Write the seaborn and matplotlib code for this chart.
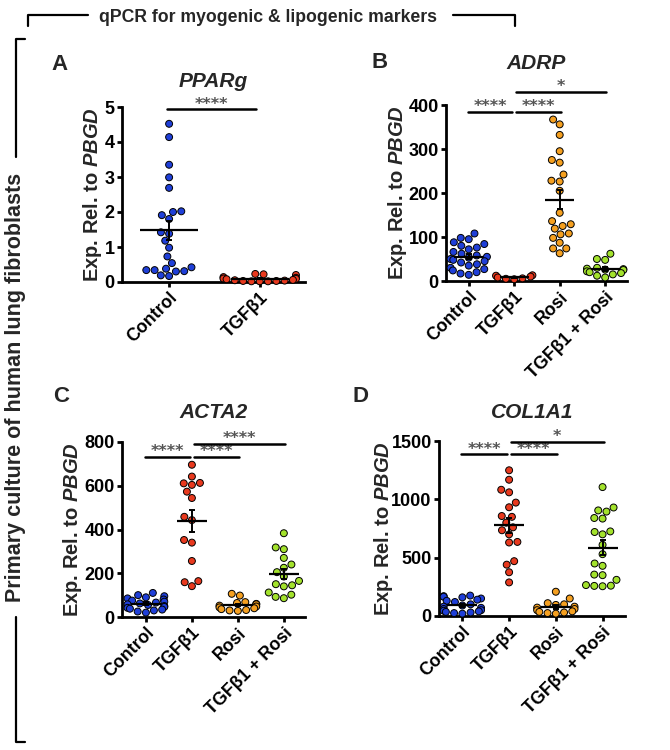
import matplotlib
matplotlib.use('Agg')
import matplotlib.pyplot as plt
import seaborn as sns
import pandas as pd
import numpy as np
from matplotlib.lines import Line2D

# ---------------- data ----------------
groups_a = ['Control', 'TGFβ1']
groups_bcd = ['Control', 'TGFβ1', 'Rosi', 'TGFβ1 + Rosi']
colors = ['#1f3fd8', '#e8391e', '#f5a020', '#a3e22c']

pparg_control = [4.52, 4.14, 3.35, 2.99, 2.69, 2.02, 2.00, 1.91, 1.80, 1.42, 1.38, 1.18,
                 0.98, 0.73, 0.54, 0.38, 0.34, 0.31, 0.30, 0.34, 0.42, 0.17, 0.19]
pparg_tgfb = [0.22, 0.23, 0.20, 0.14, 0.12, 0.10, 0.09, 0.08, 0.06, 0.05, 0.04, 0.03,
              0.03, 0.02, 0.02, 0.02]

adrp_control = [108, 98, 95, 88, 84, 80, 76, 72, 66, 62, 58, 55, 53, 50, 48, 45, 42, 38,
                35, 30, 27, 24, 20, 17, 14]
adrp_tgfb = [13, 12, 10, 8, 6, 5, 4]
adrp_rosi = [367, 356, 332, 295, 275, 269, 242, 228, 226, 205, 155, 136, 129, 125, 119,
             108, 106, 98, 87, 74, 74, 63]
adrp_tgfb_rosi = [62, 50, 48, 30, 28, 27, 26, 25, 22, 20, 18, 15, 12, 8]

acta2_control = [110, 100, 95, 90, 85, 80, 75, 70, 66, 62, 58, 55, 50, 46, 42, 38, 34, 30, 25, 20]
acta2_tgfb = [696, 642, 611, 604, 613, 573, 544, 458, 443, 352, 340, 256, 164, 141, 159]
acta2_rosi = [106, 98, 68, 64, 60, 58, 52, 48, 44, 40, 36, 32, 30, 28]
acta2_tgfb_rosi = [383, 318, 310, 270, 240, 225, 205, 185, 165, 150, 145, 140, 112, 102, 92, 86]

col1a1_control = [175, 170, 165, 160, 150, 140, 130, 120, 100, 90, 80, 70, 60, 50, 40, 30,
                  25, 20, 45, 35]
col1a1_tgfb = [1249, 1168, 1082, 1060, 972, 932, 857, 850, 800, 760, 735, 700, 635, 630,
               470, 440, 375, 288]
col1a1_rosi = [208, 150, 110, 100, 95, 80, 72, 60, 50, 40, 35, 30, 25, 20]
col1a1_tgfb_rosi = [1105, 930, 905, 895, 840, 835, 725, 720, 700, 610, 530, 450, 430, 355,
                    350, 310, 265, 260, 258, 255]

titles = ['PPARg', 'ADRP', 'ACTA2', 'COL1A1']
panel_letters = ['A', 'B', 'C', 'D']
ylims = [5, 400, 800, 1500]
yticks = [[0, 1, 2, 3, 4, 5], [0, 100, 200, 300, 400], [0, 200, 400, 600, 800], [0, 500, 1000, 1500]]
# significance: (group i, group j, height, label)
sig_a = [(0, 1, 4.93, '****')]
sig_b = [(0, 1, 385, '****'), (1, 2, 385, '****'), (1, 3, 430, '*')]
sig_c = [(0, 1, 731, '****'), (1, 2, 731, '****'), (1, 3, 792, '****')]
sig_d = [(0, 1, 1385, '****'), (1, 2, 1385, '****'), (1, 3, 1492, '*')]

header_text = 'qPCR for myogenic & lipogenic markers'
side_text = 'Primary culture of human lung fibroblasts'

# ---------------- style ----------------
sns.set_theme(style='ticks')
plt.rcParams['font.family'] = ['Liberation Sans', 'DejaVu Sans']
plt.rcParams['font.weight'] = 'bold'
plt.rcParams['mathtext.fontset'] = 'custom'
plt.rcParams['mathtext.it'] = 'Liberation Sans:italic:bold'
plt.rcParams['mathtext.rm'] = 'Liberation Sans:bold'
plt.rcParams['mathtext.bf'] = 'Liberation Sans:bold'

W, H = 670, 750
fig = plt.figure(figsize=(W / 100, H / 100), dpi=100)


def px_rect(l, r, top, bottom):
    return [l / W, 1 - bottom / H, (r - l) / W, (bottom - top) / H]


rects = [px_rect(122, 305, 107, 282), px_rect(446, 627, 105, 281),
         px_rect(122, 305, 442, 617), px_rect(439, 625, 441, 616)]
xlims = [(-0.52, 1.5), (-0.5, 3.48), (-0.52, 3.46), (-0.5, 3.48)]
title_y = [1.143, 1.233, 1.166, 1.16]
letter_pos = [(60, 64), (380, 62), (61, 397), (361, 397)]
ylabel_x = [-0.101, -0.207, -0.210, -0.239]

panels = [
    (groups_a, [pparg_control, pparg_tgfb], sig_a),
    (groups_bcd, [adrp_control, adrp_tgfb, adrp_rosi, adrp_tgfb_rosi], sig_b),
    (groups_bcd, [acta2_control, acta2_tgfb, acta2_rosi, acta2_tgfb_rosi], sig_c),
    (groups_bcd, [col1a1_control, col1a1_tgfb, col1a1_rosi, col1a1_tgfb_rosi], sig_d),
]

for k, (groups, series, sigs) in enumerate(panels):
    ax = fig.add_axes(rects[k])
    df = pd.DataFrame({
        'group': np.repeat(groups, [len(s) for s in series]),
        'value': np.concatenate([np.asarray(s, float) for s in series]),
    })
    sns.swarmplot(data=df, x='group', y='value', hue='group', order=groups,
                  hue_order=groups, palette=colors[:len(groups)], size=5,
                  edgecolor='black', linewidth=0.7, legend=False, ax=ax,
                  clip_on=False, zorder=3, warn_thresh=1)
    for i, s in enumerate(series):
        s = np.asarray(s, float)
        m = s.mean()
        se = s.std(ddof=1) / np.sqrt(len(s))
        ax.hlines(m, i - 0.32, i + 0.32, color='black', lw=1.6, zorder=5)
        ax.errorbar(i, m, yerr=se, color='black', capsize=2.5, lw=1.4,
                    capthick=1.4, zorder=5)
    ax.set_xlim(*xlims[k])
    ax.set_ylim(0, ylims[k])
    ax.set_yticks(yticks[k])
    ax.set_xlabel('')
    ax.set_ylabel('Exp. Rel. to $\\mathit{PBGD}$', fontsize=14.5, fontweight='bold')
    ax.yaxis.set_label_coords(ylabel_x[k], 0.5)
    sns.despine(ax=ax)
    for sp in ['left', 'bottom']:
        ax.spines[sp].set_linewidth(2)
        ax.spines[sp].set_color('black')
    ax.tick_params(axis='both', width=2, length=3.8, labelsize=13, color='black',
                   labelcolor='black', pad=1.5)
    for lab in ax.get_yticklabels():
        lab.set_fontweight('bold')
    for lab in ax.get_xticklabels():
        lab.set_rotation(45)
        lab.set_ha('right')
        lab.set_rotation_mode('anchor')
        lab.set_fontweight('bold')
        lab.set_fontsize(12.8)
    ax.text(0.5, title_y[k], titles[k], transform=ax.transAxes, ha='center', va='center',
            fontsize=15, fontweight='bold', fontstyle='italic')
    for (i, j, y, lab) in sigs:
        x1 = i - 0.02 if i == 0 else i + 0.04
        x2 = j - 0.04 if j == 1 else j + 0.02
        ax.plot([x1, x2], [y, y], color='black', lw=1.8, clip_on=False, zorder=6)
        ax.annotate(lab, xy=((x1 + x2) / 2, y), xytext=(0, 0.5), textcoords='offset points',
                    ha='center', va='baseline', fontsize=11.5, family='DejaVu Sans',
                    color='#555555', annotation_clip=False)
    lx, ly = letter_pos[k]
    fig.text(lx / W, 1 - ly / H, panel_letters[k], ha='center', va='center',
             fontsize=16, fontweight='bold')

# header bracket
fig.text(268 / W, 1 - 17 / H, header_text, ha='center', va='center', fontsize=12.7,
         fontweight='bold')
lw_b = 1.6
fig.add_artist(Line2D([28 / W, 28 / W, 88 / W], [1 - 26 / H, 1 - 15 / H, 1 - 15 / H],
                      color='black', lw=lw_b))
fig.add_artist(Line2D([453 / W, 515 / W, 515 / W], [1 - 15 / H, 1 - 15 / H, 1 - 26 / H],
                      color='black', lw=lw_b))
# side bracket
fig.text(16 / W, 1 - 387 / H, side_text, ha='center', va='center', rotation=90,
         fontsize=15.5, fontweight='bold')
fig.add_artist(Line2D([25 / W, 16 / W, 16 / W], [1 - 39 / H, 1 - 39 / H, 1 - 157 / H],
                      color='black', lw=lw_b))
fig.add_artist(Line2D([16 / W, 16 / W, 25 / W], [1 - 617 / H, 1 - 742 / H, 1 - 742 / H],
                      color='black', lw=lw_b))

fig.savefig('out.png', dpi=100)
